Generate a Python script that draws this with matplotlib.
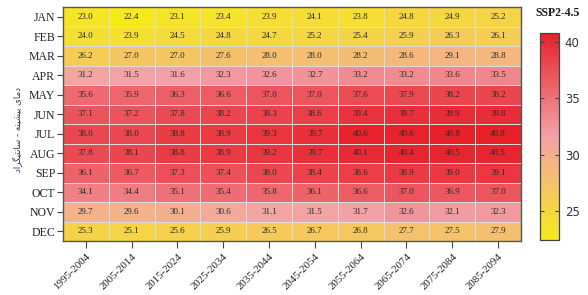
import numpy as np
import matplotlib
matplotlib.use("Agg")
import matplotlib.pyplot as plt
from matplotlib.colors import LinearSegmentedColormap

months = ["JAN", "FEB", "MAR", "APR", "MAY", "JUN", "JUL", "AUG", "SEP", "OCT", "NOV", "DEC"]
periods = ["1995-2004", "2005-2014", "2015-2024", "2025-2034", "2035-2044",
           "2045-2054", "2055-2064", "2065-2074", "2075-2084", "2085-2094"]

jan = [23.0, 22.4, 23.1, 23.4, 23.9, 24.1, 23.8, 24.8, 24.9, 25.2]
feb = [24.0, 23.9, 24.5, 24.8, 24.7, 25.2, 25.4, 25.9, 26.3, 26.1]
mar = [26.2, 27.0, 27.0, 27.6, 28.0, 28.0, 28.2, 28.6, 29.1, 28.8]
apr = [31.2, 31.5, 31.6, 32.3, 32.6, 32.7, 33.2, 33.2, 33.6, 33.5]
may = [35.6, 35.9, 36.3, 36.6, 37.0, 37.0, 37.6, 37.9, 38.2, 38.2]
jun = [37.1, 37.2, 37.8, 38.2, 38.3, 38.6, 39.4, 39.7, 39.9, 39.8]
jul = [38.0, 38.0, 38.8, 38.9, 39.3, 39.7, 40.6, 40.6, 40.8, 40.8]
aug = [37.8, 38.1, 38.8, 38.9, 39.2, 39.7, 40.1, 40.4, 40.5, 40.5]
sep = [36.1, 36.7, 37.3, 37.4, 38.0, 38.4, 38.6, 38.9, 39.0, 39.1]
octo = [34.1, 34.4, 35.1, 35.4, 35.8, 36.1, 36.6, 37.0, 36.9, 37.0]
nov = [29.7, 29.6, 30.1, 30.6, 31.1, 31.5, 31.7, 32.6, 32.1, 32.3]
dec = [25.3, 25.1, 25.6, 25.9, 26.5, 26.7, 26.8, 27.7, 27.5, 27.9]

title = "SSP2-4.5"
ylabel = "دمای بیشینه - سانتیگراد"
cbar_ticks = [25, 30, 35, 40]

# --- simple Arabic/Persian shaping (matplotlib has no shaping) ---
FORMS = {  # iso, fin, init, med
    "ا": ("\uFE8D", "\uFE8E", None, None),
    "د": ("\uFEA9", "\uFEAA", None, None),
    "ر": ("\uFEAD", "\uFEAE", None, None),
    "ب": ("\uFE8F", "\uFE90", "\uFE91", "\uFE92"),
    "ت": ("\uFE95", "\uFE96", "\uFE97", "\uFE98"),
    "س": ("\uFEB1", "\uFEB2", "\uFEB3", "\uFEB4"),
    "ش": ("\uFEB5", "\uFEB6", "\uFEB7", "\uFEB8"),
    "م": ("\uFEE1", "\uFEE2", "\uFEE3", "\uFEE4"),
    "ن": ("\uFEE5", "\uFEE6", "\uFEE7", "\uFEE8"),
    "ه": ("\uFEE9", "\uFEEA", "\uFEEB", "\uFEEC"),
    "ی": ("\uFBFC", "\uFBFD", "\uFBFE", "\uFBFF"),
    "گ": ("\uFB92", "\uFB93", "\uFB94", "\uFB95"),
}


def shape(text):
    out = []
    for i, ch in enumerate(text):
        if ch not in FORMS:
            out.append(ch)
            continue
        prev = text[i - 1] if i > 0 else None
        nxt = text[i + 1] if i + 1 < len(text) else None
        jp = prev in FORMS and FORMS[prev][2] is not None
        jn = FORMS[ch][2] is not None and nxt in FORMS
        f = FORMS[ch]
        if jp and jn:
            out.append(f[3])
        elif jp:
            out.append(f[1])
        elif jn:
            out.append(f[2])
        else:
            out.append(f[0])
    return "".join(out)[::-1]


data = np.array([jan, feb, mar, apr, may, jun, jul, aug, sep, octo, nov, dec])

cmap = LinearSegmentedColormap.from_list(
    "ypr", ["#F6EA1C", "#F3A2A8", "#E8202A"])
vmin, vmax = data.min(), data.max()

serif = ["Liberation Serif", "DejaVu Serif"]

fig = plt.figure(figsize=(5.88, 2.95), dpi=100)
ax = fig.add_axes([0.107, 0.183, 0.779, 0.793])
nrow, ncol = data.shape
mesh = ax.pcolormesh(np.arange(ncol + 1), np.arange(nrow + 1), data, cmap=cmap,
                     vmin=vmin, vmax=vmax, edgecolor="#dcdcdc", linewidth=0.45)
ax.set_xlim(0, ncol)
ax.set_ylim(nrow, 0)
for r in range(nrow):
    for c in range(ncol):
        ax.text(c + 0.5, r + 0.5, f"{data[r, c]:.1f}", ha="center", va="center",
                fontsize=6.5, family=serif, color="#2a2a2a")

ax.set_xticks(np.arange(ncol) + 0.5)
ax.set_xticklabels(periods, rotation=45, ha="right", rotation_mode="anchor",
                   family=serif, fontsize=7.8, color="#222222")
ax.set_yticks(np.arange(nrow) + 0.5)
ax.set_yticklabels(months, family=serif, fontsize=8.5, color="#222222")
ax.tick_params(axis="y", direction="out", length=4, width=0.8, color="#444444", pad=1.5)
ax.tick_params(axis="x", direction="out", length=5, width=0.8, color="#444444", pad=2.5)
for s in ax.spines.values():
    s.set_color("#555555")
    s.set_linewidth(1.0)

fig.text(0.030, 0.56, shape(ylabel), rotation=90, ha="center", va="center",
         fontsize=6.2, family=["DejaVu Sans"], color="#333355")

cax = fig.add_axes([0.918, 0.186, 0.033, 0.702])
cb = fig.colorbar(mesh, cax=cax)
cb.set_ticks(cbar_ticks)
cb.ax.tick_params(labelsize=8.5, length=3, width=0.8, color="#444444",
                  direction="in", left=True, right=True, pad=4)
for lbl in cb.ax.get_yticklabels():
    lbl.set_family("DejaVu Sans")
    lbl.set_color("#333333")
cb.outline.set_edgecolor("#444444")
cb.outline.set_linewidth(0.9)

fig.text(0.949, 0.955, title, ha="center", va="center", fontsize=8.5,
         fontweight="bold", family=serif, color="#1a1a1a")

fig.savefig("out.png", dpi=100)
